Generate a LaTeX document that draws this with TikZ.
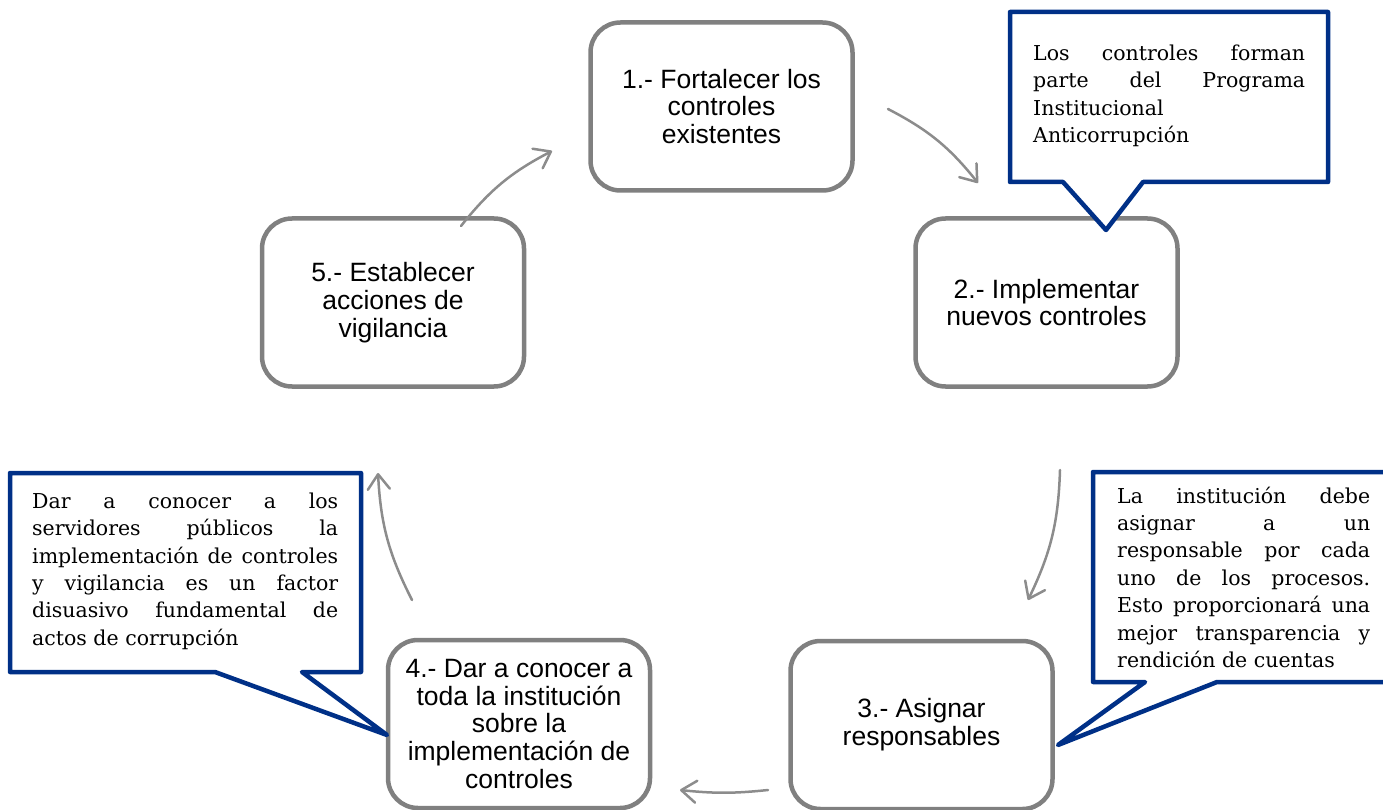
\documentclass[tikz,border=0pt]{standalone}
\usepackage{fontspec}
\setmainfont{DejaVu Serif}
\setsansfont{Liberation Sans}
\usetikzlibrary{arrows.meta}
\definecolor{boxgray}{RGB}{128,128,128}
\definecolor{arrgray}{RGB}{140,140,140}
\definecolor{calblue}{RGB}{0,48,135}
\newcommand\jline[2]{\makebox[#1][s]{#2}}
\begin{document}
\begin{tikzpicture}[x=1pt,y=-1pt,
  stepbox/.style={draw=boxgray, line width=4.5pt, rounded corners=30pt,
    minimum width=262pt, minimum height=168pt, align=center, fill=white,
    font=\sffamily\fontsize{26.5}{27.8}\selectfont},
  cyc/.style={draw=arrgray, line width=2.5pt, line cap=round,
    -{Straight Barb[length=15pt,width=22pt,line cap=round,line join=round]}},
  callout/.style={draw=calblue, line width=4.5pt, line join=round, fill=white},
  caltext/.style={anchor=north west, inner sep=0pt, align=left,
    font=\rmfamily\fontsize{20.5}{27.4}\selectfont}]
\useasboundingbox (0,0) rectangle (1383,810);

% cycle boxes
\node[stepbox] (b1) at (721.5,106.5) {1.- Fortalecer los\\controles\\existentes};
\node[stepbox] (b2) at (1046.5,302.5) {2.- Implementar\\nuevos controles};
\node[stepbox] (b3) at (921.5,725) {3.- Asignar\\responsables};
\node[stepbox] (b4) at (519,724) {4.- Dar a conocer a\\toda la instituci\'on\\sobre la\\implementaci\'on de\\controles};
\node[stepbox] (b5) at (393,302.5) {5.- Establecer\\acciones de\\vigilancia};

% cycle arrows
\coordinate (a12s) at (888,109);  \coordinate (a12e) at (978,183);
\coordinate (a23s) at (1060,470); \coordinate (a23e) at (1028,600);
\coordinate (a34s) at (768,790);  \coordinate (a34e) at (680,790);
\coordinate (a45s) at (412,600);  \coordinate (a45e) at (378,473);
\coordinate (a51s) at (461,226);  \coordinate (a51e) at (552,151);
\draw[cyc] (a12s) to[bend left=12] (a12e);
\draw[cyc] (a23s) to[bend left=12] (a23e);
\draw[cyc] (a34s) to[bend left=6] (a34e);
\draw[cyc] (a45s) to[bend left=12] (a45e);
\draw[cyc] (a51s) to[bend left=12] (a51e);

% callout for step 2
\draw[callout] (1010,12) -- (1328,12) -- (1328,182) -- (1143,182)
  -- (1106,230) -- (1063,182) -- (1010,182) -- cycle;
\node[caltext] (c2) at (1033,64-19.2) {%
\jline{272pt}{Los controles forman}\\
\jline{272pt}{parte del Programa}\\
Institucional\\
Anticorrupci\'on};

% callout for step 3
\draw[callout] (1093,472) -- (1400,472) -- (1400,682) -- (1217,682)
  -- (1058,745) -- (1145,682) -- (1093,682) -- cycle;
\node[caltext] (c3) at (1117,505.7-19.2) {%
\jline{253pt}{La instituci\'on debe}\\
\jline{253pt}{asignar a un}\\
\jline{253pt}{responsable por cada}\\
\jline{253pt}{uno de los procesos.}\\
\jline{253pt}{Esto proporcionar\'a una}\\
\jline{253pt}{mejor transparencia y}\\
rendici\'on de cuentas};

% callout for step 4
\draw[callout] (10,473) -- (361,473) -- (361,672) -- (302,672)
  -- (387,735) -- (215,672) -- (10,672) -- cycle;
\node[caltext] (c4) at (32,511.7-19.2) {%
\jline{306pt}{Dar a conocer a los}\\
\jline{306pt}{servidores p\'ublicos la}\\
\jline{306pt}{implementaci\'on de controles}\\
\jline{306pt}{y vigilancia es un factor}\\
\jline{306pt}{disuasivo fundamental de}\\
actos de corrupci\'on};
\end{tikzpicture}
\end{document}
